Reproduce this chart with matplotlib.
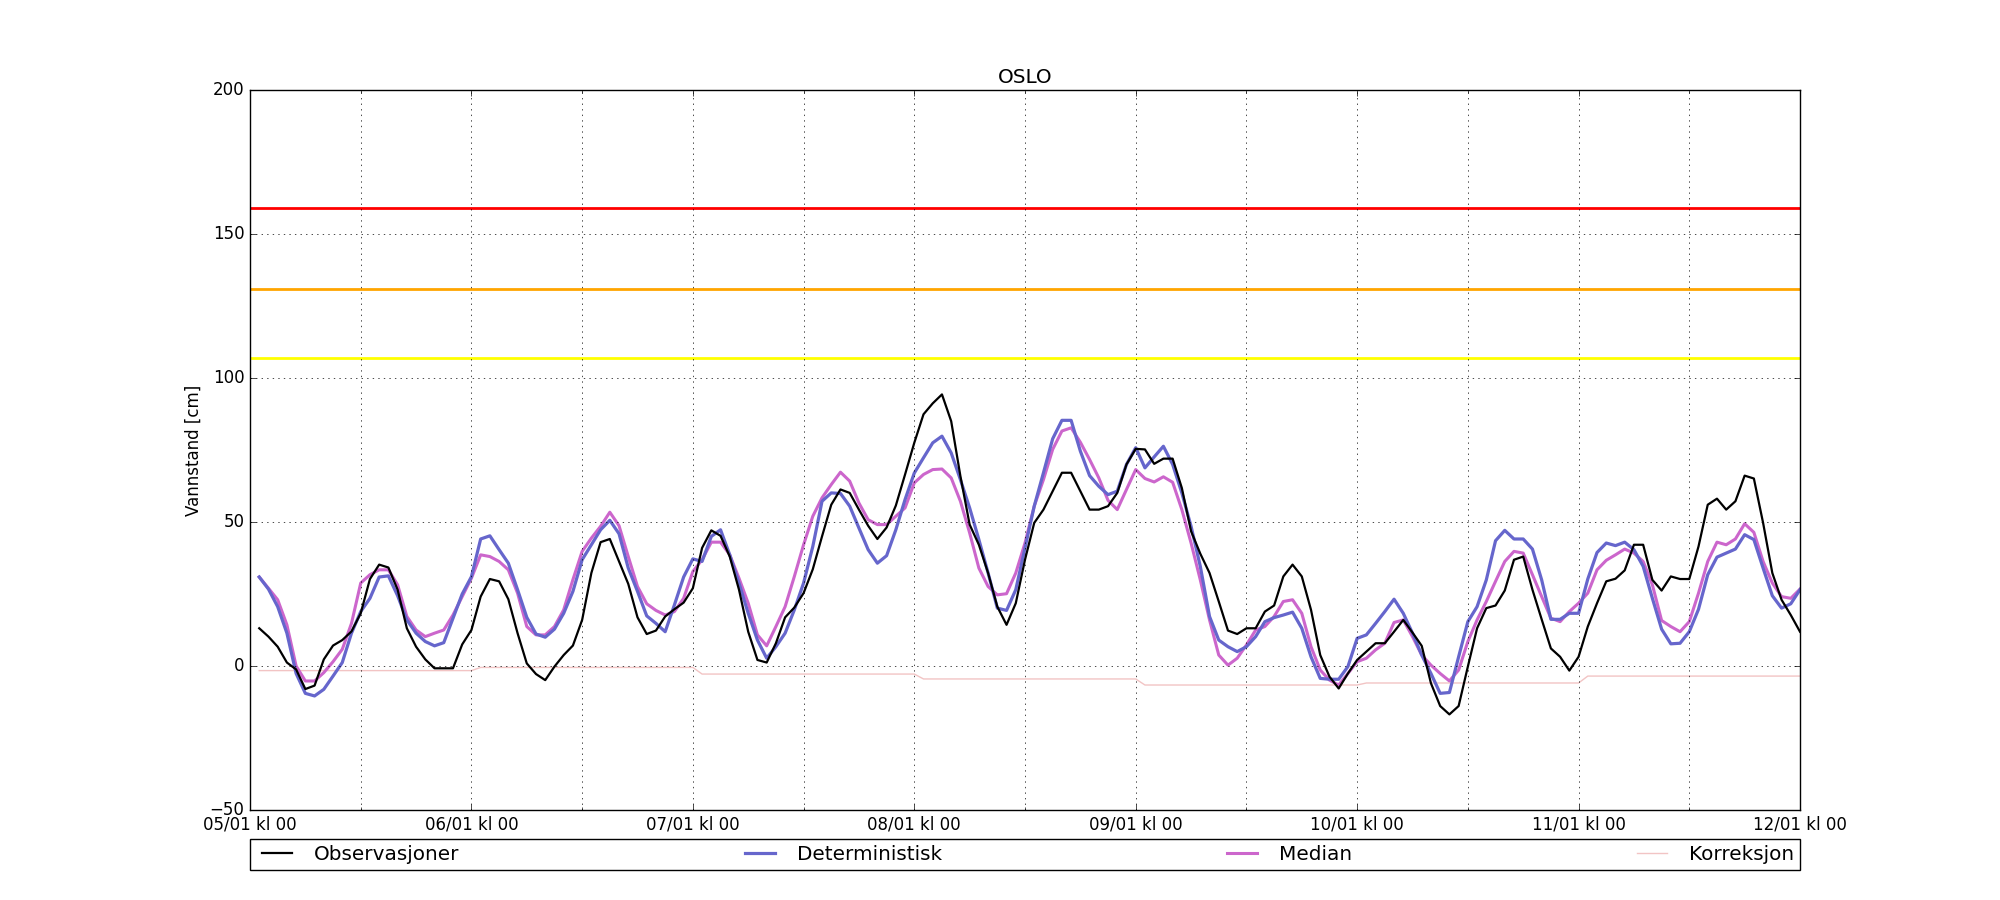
import numpy as np
import matplotlib
matplotlib.use('Agg')
import matplotlib.pyplot as plt
import matplotlib.dates as mdates

plt.style.use('classic')

# hourly values, 05/01 kl 01 .. 12/01 kl 00
obs = [13.1, 10.2, 6.7, 1.2, -1.2, -8.0, -6.8, 2.3, 7.1, 9.0, 12.0, 18.3,
       30.2, 35.2, 34.2, 26.5, 13.1, 6.7, 2.3, -0.8, -0.8, -0.8, 7.5, 12.5,
       24.1, 30.2, 29.4, 23.2, 11.4, 0.9, -2.8, -4.9, -0.2, 3.8, 7.1, 16.0,
       32.3, 43.0, 44.1, 36.3, 28.5, 16.9, 11.1, 12.3, 17.2, 19.7, 22.0, 27.0,
       41.0, 47.1, 45.2, 38.0, 26.5, 11.9, 2.1, 1.2, 7.9, 16.9, 20.3, 25.3,
       33.6, 45.0, 56.0, 61.3, 60.1, 54.3, 48.7, 44.1, 48.1, 55.7, 66.5, 77.5,
       87.4, 91.2, 94.3, 85.0, 65.9, 49.1, 42.1, 32.3, 20.6, 14.3, 21.8, 36.9,
       49.7, 54.3, 60.7, 67.1, 67.1, 60.7, 54.3, 54.3, 55.5, 60.1, 70.0, 75.4,
       75.2, 70.2, 72.0, 72.0, 61.8, 46.8, 39.0, 32.3, 22.4, 12.3, 11.1, 13.1,
       13.1, 18.9, 21.0, 31.1, 35.2, 31.1, 19.5, 3.8, -3.7, -7.8, -2.6, 2.1,
       5.0, 7.9, 7.9, 11.9, 16.0, 11.6, 7.0, -6.0, -13.9, -16.8, -13.9, -0.2,
       13.1, 20.1, 21.0, 26.2, 36.9, 38.0, 26.5, 16.2, 6.1, 3.2, -1.6, 3.2,
       13.7, 21.8, 29.4, 30.3, 33.2, 42.1, 42.1, 29.9, 26.2, 31.1, 30.2, 30.2,
       41.5, 56.0, 58.1, 54.3, 57.2, 66.1, 65.1, 49.7, 32.3, 23.0, 17.7, 11.9]

det = [30.9, 26.7, 20.6, 11.4, -2.6, -9.5, -10.4, -8.1, -3.5, 1.2, 11.4, 18.9,
       23.5, 30.9, 31.3, 24.4, 16.0, 11.4, 8.5, 7.0, 8.1, 16.6, 25.0, 31.0,
       44.1, 45.2, 40.4, 35.7, 26.5, 16.9, 11.1, 10.0, 12.8, 18.3, 25.9, 36.9,
       42.1, 47.3, 50.6, 45.9, 34.0, 25.9, 17.4, 14.8, 11.9, 21.2, 30.9, 37.2,
       36.3, 45.0, 47.3, 38.6, 28.8, 18.3, 9.0, 2.7, 6.7, 11.4, 19.5, 28.8,
       41.5, 57.2, 60.1, 59.9, 55.5, 47.9, 40.4, 35.7, 38.3, 47.3, 57.8, 67.0,
       72.3, 77.5, 79.8, 74.0, 64.7, 54.9, 43.9, 32.3, 20.1, 19.3, 26.5, 41.0,
       55.5, 67.1, 78.9, 85.3, 85.3, 74.6, 66.1, 62.4, 59.5, 60.7, 70.0, 75.8,
       68.8, 72.6, 76.3, 70.0, 60.1, 48.5, 34.6, 17.2, 9.0, 6.7, 5.0, 6.7,
       10.2, 15.4, 16.8, 17.7, 18.7, 13.1, 3.2, -4.3, -4.6, -4.6, -0.2, 9.6,
       10.8, 14.8, 18.9, 23.2, 18.3, 11.4, 3.8, -2.6, -9.5, -9.2, 3.2, 15.4,
       20.6, 29.9, 43.5, 47.1, 44.1, 44.1, 40.6, 29.9, 16.2, 16.2, 18.3, 18.3,
       30.2, 39.4, 42.7, 41.8, 43.0, 40.4, 34.6, 23.5, 12.8, 7.7, 7.9, 11.9,
       19.7, 31.7, 37.8, 39.2, 40.6, 45.6, 43.9, 34.0, 24.4, 20.1, 21.6, 26.5]

median = [30.9, 27.0, 23.0, 14.3, 0.0, -5.2, -5.2, -2.3, 1.5, 5.8, 14.8, 28.8,
          31.7, 33.4, 33.4, 28.2, 17.2, 12.5, 10.2, 11.4, 12.5, 17.7, 24.1, 30.5,
          38.6, 38.0, 36.3, 33.4, 25.3, 13.7, 10.8, 10.8, 13.7, 19.5, 30.0, 39.8,
          44.4, 48.5, 53.4, 48.7, 38.0, 27.6, 21.6, 19.3, 17.7, 18.9, 23.5, 32.8,
          36.9, 43.0, 43.0, 38.6, 30.5, 21.8, 10.8, 7.0, 13.7, 20.6, 31.1, 42.1,
          52.0, 58.4, 63.0, 67.3, 64.2, 56.6, 50.8, 49.1, 49.1, 52.0, 54.9, 63.6,
          66.5, 68.2, 68.4, 65.3, 57.2, 46.2, 34.0, 27.6, 24.7, 25.1, 32.3, 42.7,
          55.5, 64.7, 75.2, 81.6, 82.7, 77.7, 71.7, 65.3, 57.5, 54.3, 61.3, 68.2,
          65.1, 63.9, 65.7, 63.8, 54.3, 42.7, 29.9, 16.0, 3.8, 0.3, 2.7, 7.3,
          12.5, 13.7, 17.2, 22.4, 23.0, 18.3, 6.7, -1.4, -4.9, -6.6, -2.6, 1.5,
          2.7, 5.6, 7.9, 15.1, 16.0, 10.2, 3.8, 0.3, -2.6, -5.2, -1.4, 8.5,
          16.0, 22.4, 29.4, 36.3, 39.8, 39.2, 31.7, 24.1, 16.6, 15.4, 18.9, 21.8,
          25.3, 33.4, 36.7, 38.6, 40.6, 39.2, 36.3, 28.2, 15.8, 13.7, 11.9, 15.4,
          25.3, 36.3, 43.0, 42.1, 44.1, 49.4, 46.4, 36.3, 28.8, 24.1, 23.5, 26.7]

# correction is constant per forecast day
korr_per_day = [-1.6, -0.5, -2.8, -4.5, -6.6, -5.9, -3.5]
korr = np.repeat(korr_per_day, 24)

levels = [159, 131, 107]
level_colors = ['red', 'orange', 'yellow']

start = np.datetime64('2018-01-05T00:00')
end = np.datetime64('2018-01-12T00:00')
times = (start + np.arange(1, len(obs) + 1) * np.timedelta64(1, 'h')).astype('datetime64[ms]').astype(object)

fig = plt.figure(figsize=(20, 9), dpi=100, facecolor='white')
ax = fig.add_subplot(111)

for lev, col in zip(levels, level_colors):
    ax.axhline(lev, color=col, lw=2)

l_korr, = ax.plot(times, korr, color='#f2c4c4', lw=1, label='Korreksjon')
l_med, = ax.plot(times, median, color='#cc66cc', lw=2.2, label='Median')
l_det, = ax.plot(times, det, color='#6666cc', lw=2.3, label='Deterministisk')
l_obs, = ax.plot(times, obs, color='black', lw=1.6, label='Observasjoner')

ax.set_xlim(start.astype(object), end.astype(object))
ax.set_ylim(-50, 200)
ax.set_yticks([-50, 0, 50, 100, 150, 200])
ax.xaxis.set_major_locator(mdates.DayLocator())
ax.xaxis.set_minor_locator(mdates.HourLocator(byhour=[12]))
ax.xaxis.set_major_formatter(mdates.DateFormatter('%d/%m kl %H'))
ax.grid(True, which='both')

ax.set_title('OSLO')
ax.set_ylabel('Vannstand [cm]')

ax.legend(handles=[l_obs, l_det, l_med, l_korr], ncol=4, mode='expand',
          loc='upper left', bbox_to_anchor=(0, -0.14, 1, 0.1),
          borderaxespad=0, handlelength=2.1, handletextpad=0.8,
          borderpad=0.3, fontsize='large')

fig.subplots_adjust(left=0.125, right=0.9, bottom=0.1, top=0.9)
fig.savefig('out.png', dpi=100, facecolor='white')
